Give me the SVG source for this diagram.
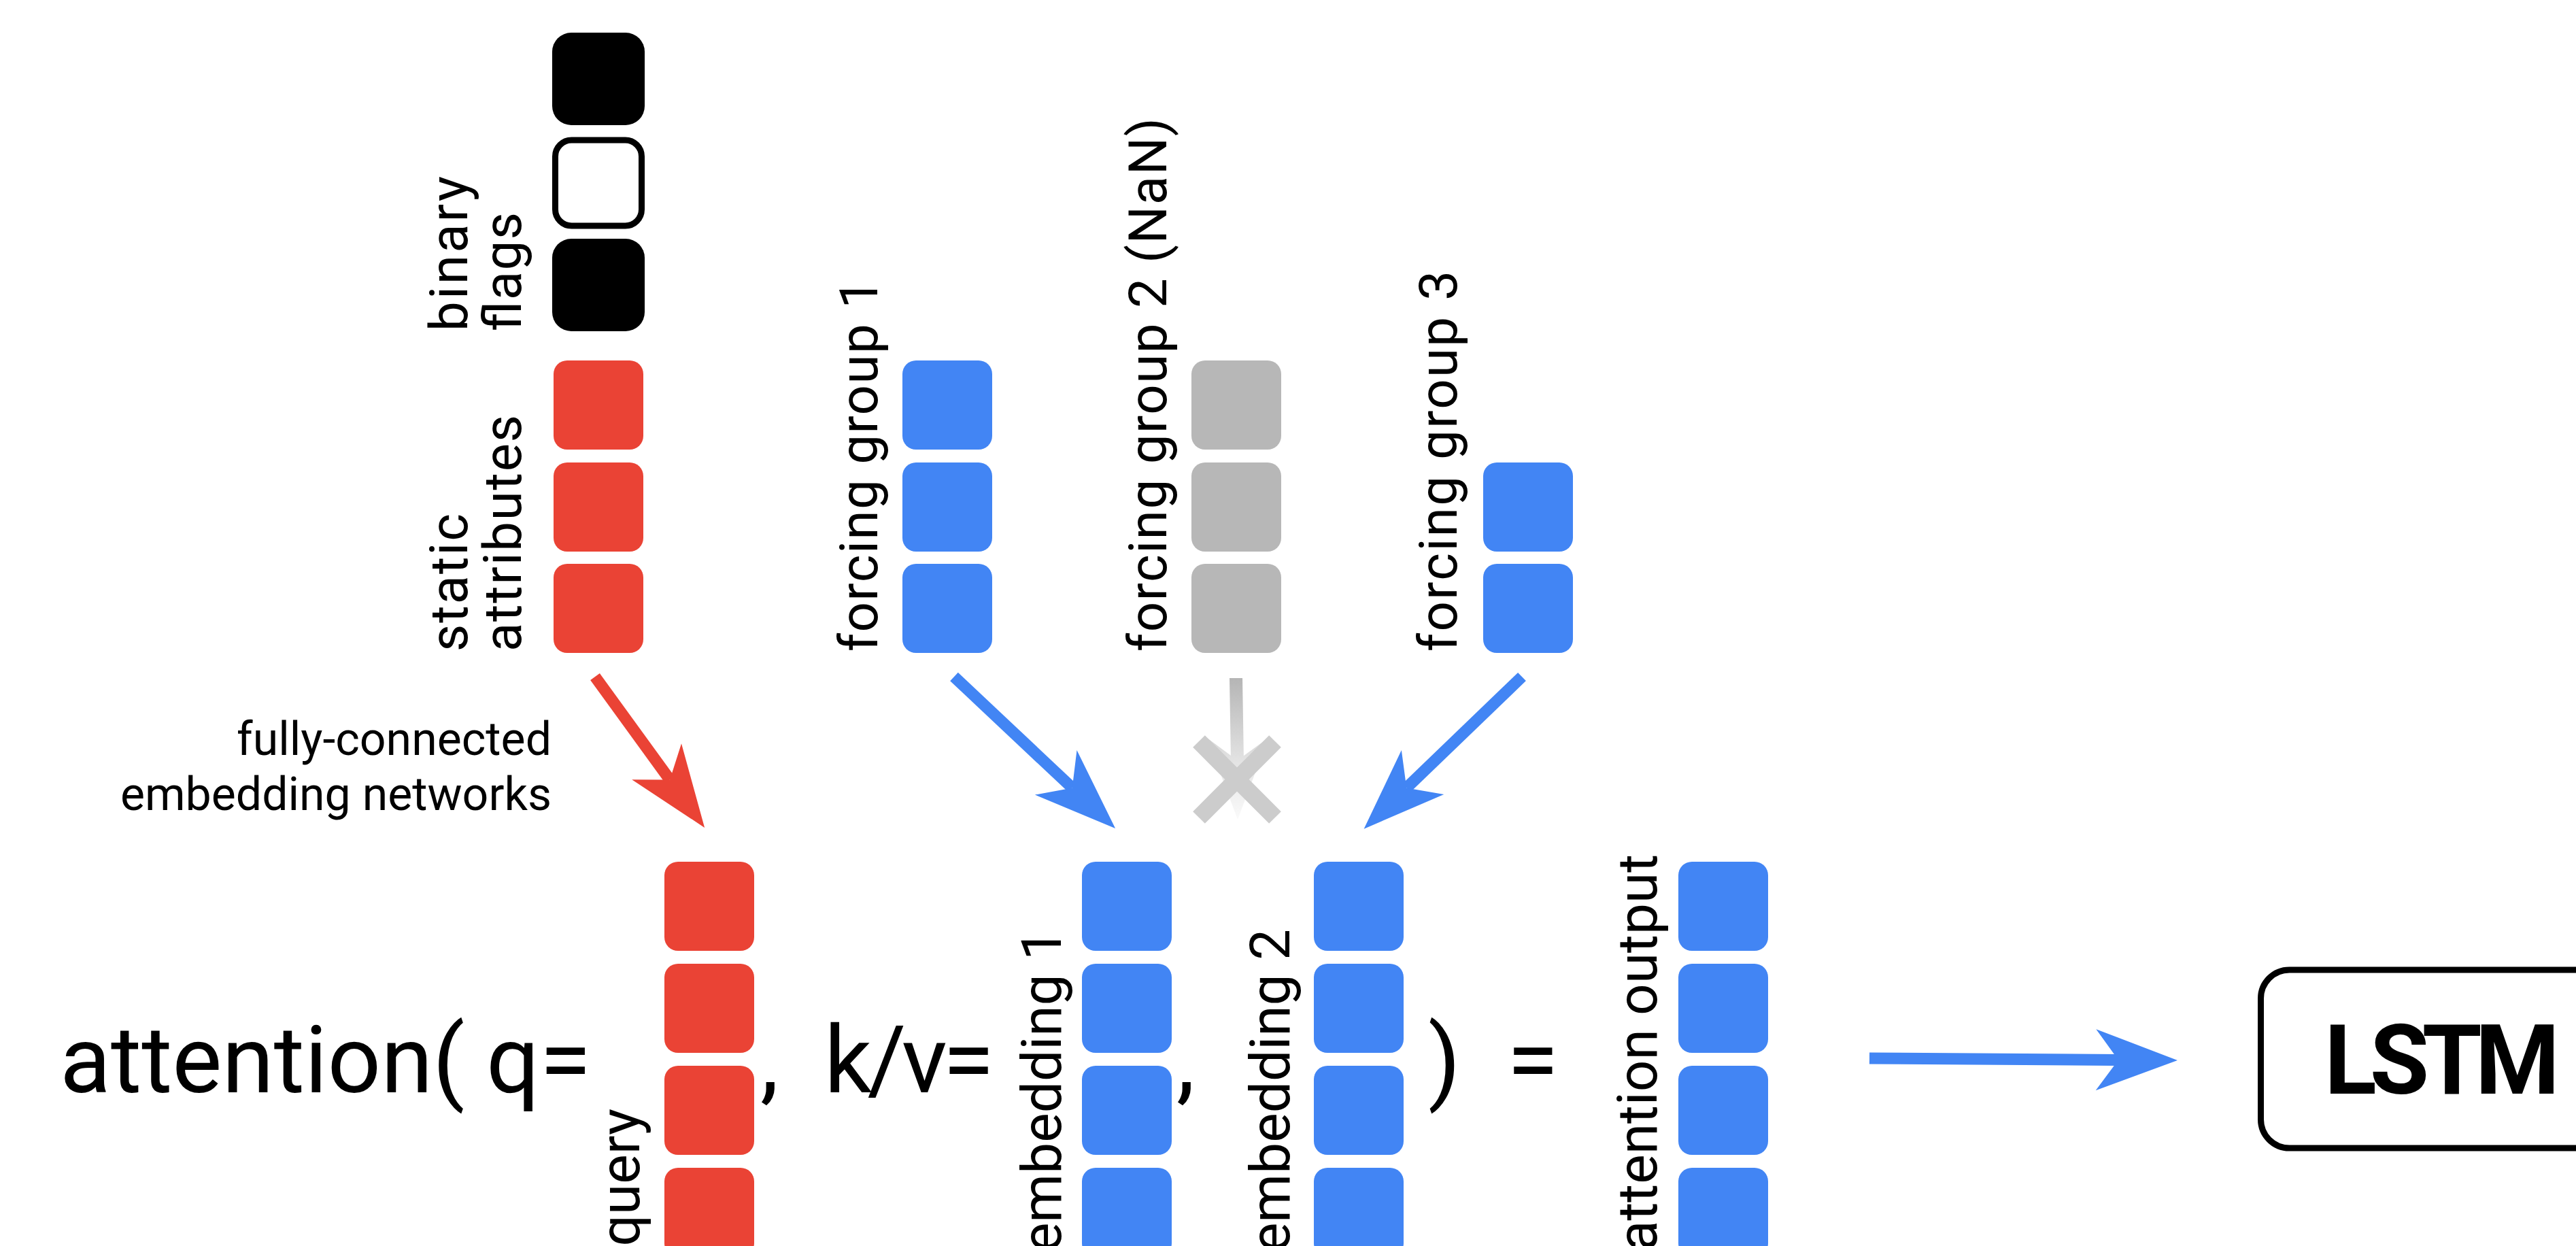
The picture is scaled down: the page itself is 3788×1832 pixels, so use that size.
<svg xmlns="http://www.w3.org/2000/svg" width="3788" height="1832" viewBox="0 0 3788 1832">
  <defs>
    <style>
      text { font-family: Roboto, "Liberation Sans", Arial, sans-serif; fill: #000; }
      .lbl { font-size: 78px; }
      .vec { font-size: 82px; }
      .eq { font-size: 138px; }
      .note { font-size: 68px; }
      .red { fill: #EA4335; }
      .blue { fill: #4285F4; }
      .gray { fill: #B7B7B7; }
      .shaft { fill: none; stroke-width: 17; stroke-linecap: butt; }
    </style>
    <!-- one feature cell of an embedding / input vector -->
    <rect id="cell" width="132" height="131" rx="20" ry="20"/>
    <marker id="headBlue" markerUnits="userSpaceOnUse" orient="auto" viewBox="-40 -50 135 100" refX="0" refY="0" markerWidth="135" markerHeight="100" overflow="visible">
      <path d="M87,0 L-33,-45 L0,0 L-33,45 Z" fill="#4285F4"/>
    </marker>
    <marker id="headRed" markerUnits="userSpaceOnUse" orient="auto" viewBox="-40 -50 135 100" refX="0" refY="0" markerWidth="135" markerHeight="100" overflow="visible">
      <path d="M87,0 L-33,-45 L0,0 L-33,45 Z" fill="#EA4335"/>
    </marker>
    <linearGradient id="fade" gradientUnits="userSpaceOnUse" x1="0" y1="997" x2="0" y2="1205">
      <stop offset="0" stop-color="#B5B5B5"/>
      <stop offset="0.6" stop-color="#E4E4E4"/>
      <stop offset="1" stop-color="#FAFAFA"/>
    </linearGradient>
  </defs>

  <rect width="3788" height="1832" fill="#fff"/>

  <!-- binary flags -->
  <g id="binary-flags">
    <rect x="812" y="48" width="136" height="136" rx="28" fill="#000"/>
    <rect x="816.5" y="206" width="127" height="126" rx="24" fill="#fff" stroke="#000" stroke-width="9"/>
    <rect x="812" y="351" width="136" height="136" rx="28" fill="#000"/>
    <text class="lbl" transform="translate(687,487) rotate(-90)" textLength="228">binary</text>
    <text class="lbl" transform="translate(766,487) rotate(-90)" textLength="175">flags</text>
  </g>

  <!-- static attributes -->
  <g id="static-attributes" class="red">
    <use href="#cell" x="814" y="530"/>
    <use href="#cell" x="814" y="680"/>
    <use href="#cell" x="814" y="829"/>
    <text class="lbl" transform="translate(687,958) rotate(-90)" textLength="203">static</text>
    <text class="lbl" transform="translate(766,958) rotate(-90)" textLength="348">attributes</text>
  </g>

  <!-- forcing groups -->
  <g id="forcing-group-1" class="blue">
    <use href="#cell" x="1327" y="530"/>
    <use href="#cell" x="1327" y="680"/>
    <use href="#cell" x="1327" y="829"/>
    <text class="lbl" transform="translate(1290,958) rotate(-90)" textLength="548">forcing group 1</text>
  </g>
  <g id="forcing-group-2" class="gray">
    <use href="#cell" x="1752" y="530"/>
    <use href="#cell" x="1752" y="680"/>
    <use href="#cell" x="1752" y="829"/>
    <text class="lbl" transform="translate(1715,958) rotate(-90)" textLength="785">forcing group 2 (NaN)</text>
  </g>
  <g id="forcing-group-3" class="blue">
    <use href="#cell" x="2181" y="680"/>
    <use href="#cell" x="2181" y="829"/>
    <text class="lbl" transform="translate(2142,958) rotate(-90)" textLength="560">forcing group 3</text>
  </g>

  <!-- embedding network caption -->
  <g id="caption">
    <text class="note" x="811" y="1110" text-anchor="end">fully-connected</text>
    <text class="note" x="811" y="1191" text-anchor="end">embedding networks</text>
  </g>

  <!-- connectors -->
  <g id="connectors">
    <path class="shaft" d="M875,995 L985,1146.5" stroke="#EA4335" marker-end="url(#headRed)"/>
    <path class="shaft" d="M1403,995 L1576.7,1158.4" stroke="#4285F4" marker-end="url(#headBlue)"/>
    <path class="shaft" d="M2238,995 L2068.3,1158.4" stroke="#4285F4" marker-end="url(#headBlue)"/>
    <path class="shaft" d="M2749,1556 L3115,1558.4" stroke="#4285F4" stroke-width="18" marker-end="url(#headBlue)"/>
    <!-- dropped input: faded arrow crossed out -->
    <g id="dropped">
      <path d="M1808,997 L1827,997 L1829,1120 L1810,1120 Z" fill="url(#fade)"/>
      <path d="M1820,1205 L1775,1085 L1819.5,1118 L1865,1085 Z" fill="url(#fade)"/>
      <path d="M1763,1090 L1875,1202 M1875,1090 L1763,1202" stroke="#CCCCCC" stroke-width="25" fill="none"/>
    </g>
  </g>

  <!-- attention expression -->
  <g id="expression">
    <text class="eq" x="88" y="1606">attention(</text>
    <text class="eq" x="715" y="1606">q=</text>
    <text class="eq" x="1118" y="1606">,</text>
    <text class="eq" x="1212" y="1606" textLength="250">k/v=</text>
    <text class="eq" x="1730" y="1606">,</text>
    <text class="eq" x="2100" y="1606">)</text>
    <text class="eq" x="2216" y="1606">=</text>
  </g>

  <g id="query" class="red">
    <use href="#cell" x="977" y="1267"/>
    <use href="#cell" x="977" y="1417"/>
    <use href="#cell" x="977" y="1567"/>
    <use href="#cell" x="977" y="1717"/>
    <text class="vec" transform="translate(940,1630) rotate(-90)" text-anchor="end">query</text>
  </g>

  <g id="embedding-1" class="blue">
    <use href="#cell" x="1591" y="1267"/>
    <use href="#cell" x="1591" y="1417"/>
    <use href="#cell" x="1591" y="1567"/>
    <use href="#cell" x="1591" y="1717"/>
    <text class="vec" transform="translate(1560,1366) rotate(-90)" text-anchor="end">embedding 1</text>
  </g>

  <g id="embedding-2" class="blue">
    <use href="#cell" x="1932" y="1267"/>
    <use href="#cell" x="1932" y="1417"/>
    <use href="#cell" x="1932" y="1567"/>
    <use href="#cell" x="1932" y="1717"/>
    <text class="vec" transform="translate(1896,1366) rotate(-90)" text-anchor="end">embedding 2</text>
  </g>

  <g id="attention-output" class="blue">
    <use href="#cell" x="2468" y="1267"/>
    <use href="#cell" x="2468" y="1417"/>
    <use href="#cell" x="2468" y="1567"/>
    <use href="#cell" x="2468" y="1717"/>
    <text class="vec" transform="translate(2436,1256) rotate(-90)" text-anchor="end">attention output</text>
  </g>

  <g id="lstm">
    <rect x="3324.5" y="1426" width="700" height="262" rx="42" fill="#fff" stroke="#000" stroke-width="9"/>
    <text x="3418" y="1608" font-size="142" font-weight="700" textLength="346">LSTM</text>
  </g>
</svg>
